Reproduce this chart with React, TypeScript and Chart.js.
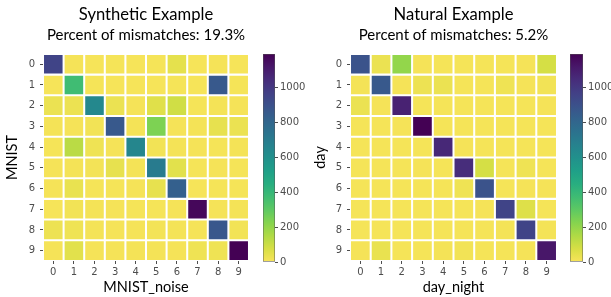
import React, { useEffect, useRef } from 'react';
import { Chart, registerables } from 'chart.js';

Chart.register(...registerables);

// ---------- data ----------
const digitLabels = ['0', '1', '2', '3', '4', '5', '6', '7', '8', '9'];
const colorbarTicks = [0, 200, 400, 600, 800, 1000];

const syntheticTitle = 'Synthetic Example';
const syntheticSubtitle = 'Percent of mismatches: 19.3%';
const syntheticXLabel = 'MNIST_noise';
const syntheticYLabel = 'MNIST';
// rows = MNIST (true), columns = MNIST_noise
const syntheticCounts = [
  [950, 8, 5, 6, 5, 6, 45, 4, 8, 5],
  [5, 370, 6, 4, 5, 5, 6, 5, 860, 6],
  [30, 28, 640, 30, 8, 55, 90, 6, 10, 8],
  [10, 8, 15, 860, 10, 240, 8, 10, 40, 30],
  [6, 130, 20, 8, 650, 15, 10, 8, 6, 10],
  [8, 10, 12, 40, 10, 700, 50, 6, 8, 6],
  [8, 35, 6, 6, 8, 40, 830, 5, 6, 6],
  [5, 15, 10, 8, 6, 6, 8, 1170, 8, 10],
  [25, 20, 10, 8, 8, 12, 10, 8, 870, 15],
  [8, 50, 8, 8, 10, 10, 8, 20, 20, 1190],
];

const naturalTitle = 'Natural Example';
const naturalSubtitle = 'Percent of mismatches: 5.2%';
const naturalXLabel = 'day_night';
const naturalYLabel = 'day';
// rows = day (true), columns = day_night
const naturalCounts = [
  [890, 30, 200, 8, 6, 6, 6, 6, 8, 80],
  [10, 860, 8, 25, 30, 6, 6, 20, 8, 15],
  [30, 8, 1080, 6, 6, 6, 6, 6, 6, 8],
  [6, 6, 8, 1190, 6, 6, 6, 6, 6, 6],
  [6, 6, 6, 6, 1060, 8, 6, 6, 6, 6],
  [6, 6, 6, 8, 6, 1040, 80, 6, 20, 6],
  [6, 6, 6, 6, 6, 20, 890, 6, 8, 8],
  [6, 6, 6, 6, 6, 6, 8, 950, 60, 6],
  [6, 6, 6, 6, 6, 6, 6, 10, 950, 10],
  [8, 35, 6, 6, 10, 15, 6, 6, 8, 1120],
];

// viridis-like colormap samples as seen in the picture (t = 0 .. 1)
const viridisStops = [
  '#440154', '#48186a', '#472d7b', '#424086', '#3b528b', '#33638d', '#2c728e', '#26828e',
  '#21918c', '#1fa088', '#28ae80', '#3fbc73', '#5ec962', '#86d44e', '#b0da45', '#d8df45', '#f8e45a',
];

// ---------- helpers ----------
const TITLE_FONT = 'Lato, "Open Sans", sans-serif';
const TICK_FONT = '"DejaVu Sans", sans-serif';
const TICK_COLOR = '#4d4d4d';
const HEIGHT = 297;

function hexToRgb(h: string) {
  const n = parseInt(h.slice(1), 16);
  return [(n >> 16) & 255, (n >> 8) & 255, n & 255];
}

function viridis(t: number) {
  const x = Math.min(1, Math.max(0, t)) * (viridisStops.length - 1);
  const i = Math.min(viridisStops.length - 2, Math.floor(x));
  const f = x - i;
  const a = hexToRgb(viridisStops[i]);
  const b = hexToRgb(viridisStops[i + 1]);
  const c = a.map((v, k) => Math.round(v + (b[k] - v) * f));
  return `rgb(${c[0]},${c[1]},${c[2]})`;
}

type HeatProps = {
  counts: number[][];
  title: string;
  subtitle: string;
  xLabel: string;
  yLabel: string;
  left: number;
  width: number;
  axisW: number;
  yTitlePad: number;
};

function Heatmap(p: HeatProps) {
  const ref = useRef<HTMLCanvasElement>(null);
  useEffect(() => {
    const vmax = Math.max(...p.counts.flat());
    const datasets = p.counts.map((row, r) => ({
      data: row.map(() => [r - 0.5, r + 0.5]),
      backgroundColor: row.map((v) => viridis(1 - v / vmax)),
      borderColor: '#ffffff',
      borderWidth: 1.35,
      borderSkipped: false,
      grouped: false,
      barPercentage: 1,
      categoryPercentage: 1,
      yAxisID: 'y',
    }));
    const chart = new Chart(ref.current as HTMLCanvasElement, {
      type: 'bar',
      data: { labels: digitLabels, datasets: datasets as any },
      options: {
        responsive: false,
        maintainAspectRatio: false,
        animation: false,
        layout: { padding: 0 },
        plugins: {
          legend: { display: false },
          tooltip: { enabled: false },
          title: {
            display: true,
            text: p.title,
            color: '#000',
            font: { family: TITLE_FONT, size: 16.6, weight: 'normal' },
            padding: { top: 5, bottom: 0 },
          },
          subtitle: {
            display: true,
            text: p.subtitle,
            color: '#000',
            font: { family: TITLE_FONT, size: 15, weight: 'normal' },
            padding: { top: 1.5, bottom: 9.5 },
          },
        },
        scales: {
          x: {
            type: 'category',
            offset: true,
            grid: { offset: false, drawOnChartArea: false, tickLength: 3, color: TICK_COLOR },
            border: { display: false },
            ticks: {
              padding: 2,
              color: TICK_COLOR,
              font: { family: TICK_FONT, size: 10 },
              maxRotation: 0,
              autoSkip: false,
            },
            title: {
              display: true,
              text: p.xLabel,
              color: '#000',
              font: { family: TITLE_FONT, size: 14.5 },
              padding: { top: 0, bottom: 1 },
            },
            afterFit: (s: any) => {
              s.height = 36;
            },
          },
          y: {
            type: 'linear',
            min: -0.5,
            max: 9.5,
            reverse: true,
            afterBuildTicks: (s: any) => {
              s.ticks = digitLabels.map((_, i) => ({ value: i }));
            },
            grid: { drawOnChartArea: false, tickLength: 3, color: TICK_COLOR },
            border: { display: false },
            ticks: {
              padding: 5,
              color: TICK_COLOR,
              font: { family: TICK_FONT, size: 10 },
              callback: (v: any) => digitLabels[v as number],
            },
            title: {
              display: true,
              text: p.yLabel,
              color: '#000',
              font: { family: TITLE_FONT, size: 14.5 },
              padding: { top: p.yTitlePad, bottom: 0 },
            },
            afterFit: (s: any) => {
              s.width = p.axisW;
            },
          },
          yPad: {
            type: 'linear',
            position: 'right',
            display: true,
            grid: { display: false },
            border: { display: false },
            ticks: { display: false },
            afterFit: (s: any) => {
              s.width = p.axisW;
            },
          },
        },
      } as any,
    });
    return () => chart.destroy();
  }, []);
  return (
    <canvas
      ref={ref}
      width={p.width}
      height={HEIGHT}
      style={{ position: 'absolute', left: p.left, top: 0, width: p.width, height: HEIGHT }}
    />
  );
}

type BarProps = { vmax: number; left: number; width: number; padLeft: number; barW: number };

function Colorbar(p: BarProps) {
  const ref = useRef<HTMLCanvasElement>(null);
  useEffect(() => {
    const chart = new Chart(ref.current as HTMLCanvasElement, {
      type: 'bar',
      data: {
        labels: [''],
        datasets: [
          {
            data: [[0, p.vmax]] as any,
            backgroundColor: (ctx: any) => {
              const area = ctx.chart.chartArea;
              if (!area) return viridisStops[viridisStops.length - 1];
              const g = ctx.chart.ctx.createLinearGradient(0, area.bottom, 0, area.top);
              const n = viridisStops.length;
              for (let i = 0; i < n; i++) g.addColorStop(i / (n - 1), viridisStops[n - 1 - i]);
              return g;
            },
            borderColor: '#555',
            borderWidth: 0.8,
            borderSkipped: false,
            barPercentage: 1,
            categoryPercentage: 1,
          },
        ],
      },
      options: {
        responsive: false,
        maintainAspectRatio: false,
        animation: false,
        layout: { padding: { left: p.padLeft, top: 54, bottom: 35, right: 0 } },
        plugins: { legend: { display: false }, tooltip: { enabled: false } },
        scales: {
          x: { display: false },
          y: {
            position: 'right',
            min: 0,
            max: p.vmax,
            afterBuildTicks: (s: any) => {
              s.ticks = colorbarTicks.map((v) => ({ value: v }));
            },
            grid: { drawOnChartArea: false, tickLength: 3, color: TICK_COLOR },
            border: { display: false },
            ticks: {
              padding: 2,
              color: TICK_COLOR,
              font: { family: TICK_FONT, size: 10 },
              callback: (v: any) => String(v),
            },
            afterFit: (s: any) => {
              s.width = p.width - p.padLeft - p.barW;
            },
          },
        },
      } as any,
    });
    return () => chart.destroy();
  }, []);
  return (
    <canvas
      ref={ref}
      width={p.width}
      height={HEIGHT}
      style={{ position: 'absolute', left: p.left, top: 0, width: p.width, height: HEIGHT }}
    />
  );
}

export default function App() {
  const synMax = Math.max(...syntheticCounts.flat());
  const natMax = Math.max(...naturalCounts.flat());
  return (
    <div
      style={{
        position: 'absolute',
        left: 0,
        top: 0,
        width: 611,
        height: HEIGHT,
        background: '#fff',
        overflow: 'hidden',
      }}
    >
      <Heatmap
        counts={syntheticCounts}
        title={syntheticTitle}
        subtitle={syntheticSubtitle}
        xLabel={syntheticXLabel}
        yLabel={syntheticYLabel}
        left={0}
        width={292}
        axisW={43}
        yTitlePad={4}
      />
      <Colorbar vmax={synMax} left={255} width={56} padLeft={8} barW={12} />
      <Heatmap
        counts={naturalCounts}
        title={naturalTitle}
        subtitle={naturalSubtitle}
        xLabel={naturalXLabel}
        yLabel={naturalYLabel}
        left={305}
        width={297}
        axisW={45}
        yTitlePad={7}
      />
      <Colorbar vmax={natMax} left={562} width={49} padLeft={8} barW={13} />
    </div>
  );
}
